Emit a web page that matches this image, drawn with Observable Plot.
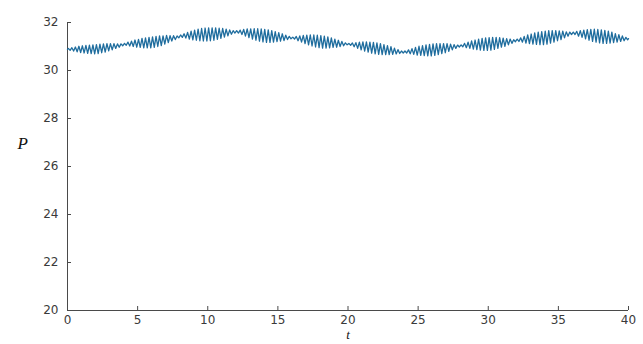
<!DOCTYPE html>
<html><head><meta charset="utf-8">
<script src="https://cdn.jsdelivr.net/npm/d3@7"></script>
<script src="https://cdn.jsdelivr.net/npm/@observablehq/plot@0.6"></script>
<style>html,body{margin:0;padding:0;background:#fff} #chart svg{display:block}</style>
</head><body><div id="chart"></div>
<script>
// tick labels
const xTicks = [0, 5, 10, 15, 20, 25, 30, 35, 40];
const yTicks = [20, 22, 24, 26, 28, 30, 32];
const xLabel = "t";
const yLabel = "P";

// fast-oscillation cycle length (t units)
const cycle = 0.25;
const startP = 30.88;
const endP = 31.33;

// crest value of each cycle (10 beats of 16 cycles)
const crest = [
  30.92,30.95,30.98,31.01,31.03,31.05,31.06,31.07,31.08,31.10,31.11,31.12,31.12,31.12,31.11,31.11,
  31.13,31.18,31.22,31.27,31.30,31.34,31.36,31.38,31.40,31.42,31.44,31.44,31.46,31.45,31.45,31.44,
  31.48,31.53,31.59,31.64,31.68,31.72,31.75,31.77,31.78,31.78,31.78,31.76,31.75,31.72,31.69,31.66,
  31.66,31.68,31.71,31.73,31.73,31.74,31.74,31.73,31.71,31.69,31.66,31.62,31.58,31.53,31.47,31.42,
  31.39,31.42,31.44,31.46,31.47,31.48,31.48,31.47,31.45,31.43,31.40,31.36,31.31,31.26,31.21,31.15,
  31.13,31.15,31.16,31.18,31.19,31.19,31.18,31.17,31.15,31.12,31.08,31.04,30.99,30.93,30.87,30.81,
  30.81,30.86,30.91,30.96,31.01,31.04,31.07,31.09,31.11,31.12,31.12,31.12,31.12,31.10,31.08,31.06,
  31.07,31.13,31.18,31.23,31.27,31.31,31.34,31.36,31.37,31.38,31.38,31.37,31.35,31.33,31.31,31.28,
  31.31,31.36,31.42,31.48,31.52,31.57,31.60,31.62,31.64,31.66,31.66,31.66,31.65,31.64,31.61,31.60,
  31.60,31.63,31.66,31.68,31.70,31.71,31.72,31.71,31.69,31.67,31.64,31.60,31.54,31.49,31.44,31.38
];
// trough value of each cycle
const trough = [
  30.84,30.81,30.78,30.75,30.73,30.71,30.70,30.69,30.70,30.74,30.77,30.82,30.86,30.92,30.97,31.03,
  31.05,31.02,31.00,30.97,30.96,30.94,30.94,30.94,30.96,31.00,31.04,31.10,31.16,31.23,31.29,31.36,
  31.38,31.35,31.31,31.28,31.26,31.24,31.23,31.23,31.24,31.26,31.30,31.34,31.39,31.44,31.51,31.56,
  31.56,31.50,31.43,31.37,31.31,31.26,31.22,31.19,31.17,31.17,31.18,31.20,31.22,31.25,31.29,31.32,
  31.31,31.24,31.18,31.12,31.07,31.02,30.98,30.95,30.93,30.93,30.94,30.96,30.97,31.00,31.03,31.07,
  31.05,30.99,30.92,30.86,30.81,30.77,30.72,30.69,30.67,30.66,30.66,30.66,30.67,30.69,30.71,30.73,
  30.73,30.70,30.67,30.64,30.63,30.62,30.61,30.61,30.63,30.66,30.70,30.74,30.80,30.86,30.92,30.98,
  30.99,30.95,30.92,30.89,30.87,30.85,30.84,30.84,30.85,30.88,30.92,30.97,31.01,31.07,31.13,31.20,
  31.21,31.18,31.14,31.12,31.10,31.09,31.08,31.08,31.10,31.14,31.18,31.24,31.29,31.36,31.43,31.50,
  31.50,31.43,31.38,31.32,31.26,31.21,31.18,31.15,31.13,31.13,31.14,31.16,31.18,31.21,31.24,31.28
];

const data = [{t: 0, P: startP}];
crest.forEach((c, k) => {
  data.push({t: k * cycle + cycle / 4, P: c});
  data.push({t: k * cycle + 3 * cycle / 4, P: trough[k]});
});
data.push({t: xTicks[xTicks.length - 1], P: endP});

const axisColor = "#4a4a4a";
const chart = Plot.plot({
  width: 643,
  height: 344,
  marginLeft: 67,
  marginRight: 15,
  marginTop: 22,
  marginBottom: 34,
  style: {fontFamily: "'DejaVu Sans', sans-serif", fontSize: "12px", color: "#3a3a3a", background: "#fff"},
  x: {domain: [xTicks[0], xTicks[xTicks.length - 1]], label: null},
  y: {domain: [yTicks[0], yTicks[yTicks.length - 1]], label: null},
  marks: [
    Plot.ruleX([xTicks[0]], {stroke: axisColor, strokeWidth: 1}),
    Plot.ruleY([yTicks[0]], {stroke: axisColor, strokeWidth: 1}),
    Plot.axisY({ticks: yTicks, tickSize: 4, dx: 4, tickFormat: () => "", label: null, stroke: axisColor}),
    Plot.axisY({ticks: yTicks, tickSize: 0, tickPadding: 9, label: null}),
    Plot.axisX({ticks: xTicks, tickSize: 4, dy: -4, tickFormat: () => "", label: null, stroke: axisColor}),
    Plot.axisX({ticks: xTicks, tickSize: 0, tickPadding: 5, label: null}),
    Plot.line(data, {x: "t", y: "P", stroke: "#1f6d9e", strokeWidth: 1.3}),
    Plot.text([yLabel], {text: d => d, frameAnchor: "left", dx: -50, dy: -23, fontStyle: "italic",
      fontFamily: "'Liberation Serif', serif", fontSize: 17, fill: "#111"}),
    Plot.text([xLabel], {text: d => d, frameAnchor: "bottom", dy: 28, fontStyle: "italic",
      fontFamily: "'Liberation Serif', serif", fontSize: 13, fill: "#111"})
  ]
});
document.getElementById("chart").appendChild(chart);
</script>
</body></html>
